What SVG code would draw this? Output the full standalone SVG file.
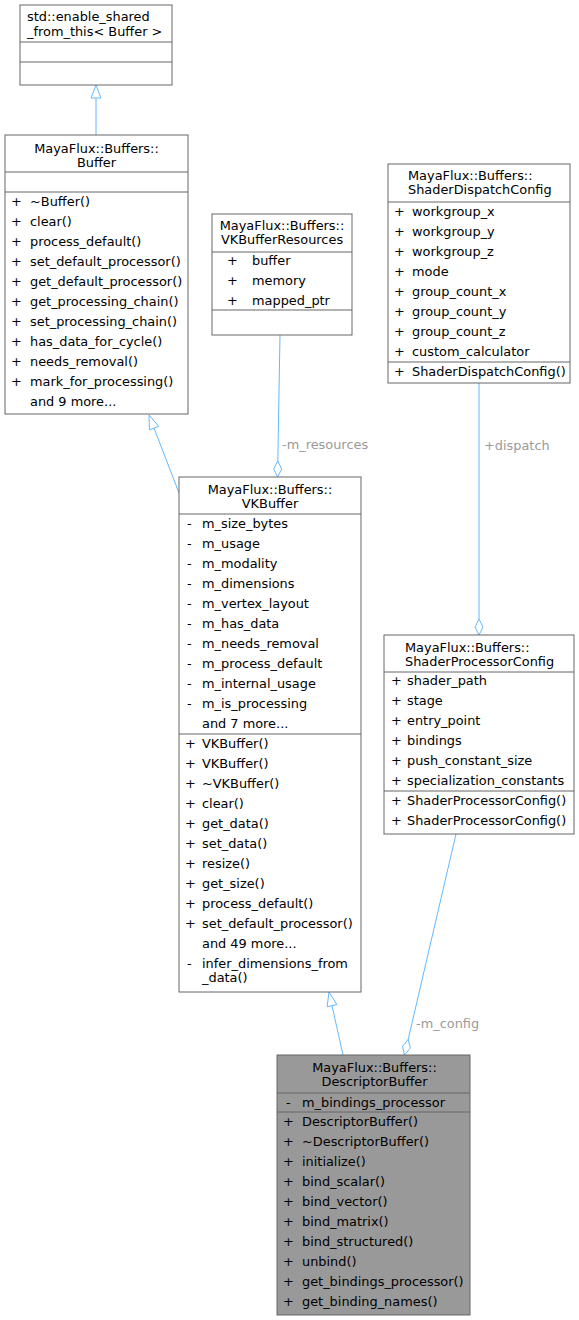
<svg xmlns="http://www.w3.org/2000/svg" width="579" height="1320" viewBox="0 0 579 1320">
<style>
.box{fill:#ffffff;stroke:#666666;stroke-width:1}
.hl{fill:#999999;stroke:#666666;stroke-width:1}
.div{stroke:#666666;stroke-width:1;fill:none}
text{font-family:"DejaVu Sans","Liberation Sans",sans-serif;font-size:12.9px;fill:#000000}
.c{text-anchor:middle}
.lbl{fill:#9a9a9a}
.edge{stroke:#63b8ff;stroke-width:1;fill:none}
.head{stroke:#63b8ff;stroke-width:1;fill:#ffffff}
</style>
<rect width="579" height="1320" fill="#ffffff"/>
<g id="connectors">
  <line class="edge" x1="96" y1="135" x2="96" y2="98"/>
  <polygon class="head" points="96,85 101,98 91,98"/>
  <line class="edge" x1="179" y1="493" x2="154" y2="428"/>
  <polygon class="head" points="149,415 158.7,426.3 149.4,429.9"/>
  <line class="edge" x1="280" y1="335" x2="277.8" y2="461"/>
  <polygon class="head" points="277.6,477 273.7,469 277.8,461 281.7,469"/>
  <text class="lbl" x="282" y="449">-m_resources</text>
  <line class="edge" x1="479" y1="383" x2="479" y2="619"/>
  <polygon class="head" points="479,635 475,627 479,619 483,627"/>
  <text class="lbl" x="484" y="450">+dispatch</text>
  <line class="edge" x1="343" y1="1055" x2="332" y2="1005.7"/>
  <polygon class="head" points="329,992 336.9,1004.6 327.1,1006.8"/>
  <line class="edge" x1="456" y1="834" x2="408.2" y2="1039.4"/>
  <polygon class="head" points="404.5,1055 402.5,1046.3 408.2,1039.4 410.3,1048.1"/>
  <text class="lbl" x="416" y="1028">-m_config</text>
</g>
<g id="node_enable_shared">
  <rect class="box" x="20" y="5" width="152" height="80"/>
  <line class="div" x1="20" y1="42" x2="172" y2="42"/>
  <line class="div" x1="20" y1="62" x2="172" y2="62"/>
  <text x="27" y="21">std::enable_shared</text>
  <text x="27" y="36">_from_this&lt; Buffer &gt;</text>
</g>
<g id="node_Buffer">
  <rect class="box" x="5" y="135" width="183" height="279"/>
  <line class="div" x1="5" y1="172" x2="188" y2="172"/>
  <line class="div" x1="5" y1="192" x2="188" y2="192"/>
  <text class="c" x="96.5" y="153">MayaFlux::Buffers::</text>
  <text class="c" x="96.5" y="167">Buffer</text>
  <text x="11" y="206">+</text><text x="30" y="206">~Buffer()</text>
  <text x="11" y="226">+</text><text x="30" y="226">clear()</text>
  <text x="11" y="246">+</text><text x="30" y="246">process_default()</text>
  <text x="11" y="266">+</text><text x="30" y="266">set_default_processor()</text>
  <text x="11" y="286">+</text><text x="30" y="286">get_default_processor()</text>
  <text x="11" y="306">+</text><text x="30" y="306">get_processing_chain()</text>
  <text x="11" y="326">+</text><text x="30" y="326">set_processing_chain()</text>
  <text x="11" y="346">+</text><text x="30" y="346">has_data_for_cycle()</text>
  <text x="11" y="366">+</text><text x="30" y="366">needs_removal()</text>
  <text x="11" y="386">+</text><text x="30" y="386">mark_for_processing()</text>
  <text x="30" y="406">and 9 more...</text>
</g>
<g id="node_VKBufferResources">
  <rect class="box" x="212" y="214" width="140" height="121"/>
  <line class="div" x1="212" y1="252" x2="352" y2="252"/>
  <line class="div" x1="212" y1="310" x2="352" y2="310"/>
  <text class="c" x="282" y="230">MayaFlux::Buffers::</text>
  <text class="c" x="282" y="244">VKBufferResources</text>
  <text x="227" y="265">+</text><text x="252" y="265">buffer</text>
  <text x="227" y="285">+</text><text x="252" y="285">memory</text>
  <text x="227" y="305">+</text><text x="252" y="305">mapped_ptr</text>
</g>
<g id="node_ShaderDispatchConfig">
  <rect class="box" x="388" y="164" width="182" height="219"/>
  <line class="div" x1="388" y1="202" x2="570" y2="202"/>
  <line class="div" x1="388" y1="362" x2="570" y2="362"/>
  <text x="408" y="180">MayaFlux::Buffers::</text>
  <text x="408" y="194">ShaderDispatchConfig</text>
  <text x="394" y="216">+</text><text x="412" y="216">workgroup_x</text>
  <text x="394" y="236">+</text><text x="412" y="236">workgroup_y</text>
  <text x="394" y="256">+</text><text x="412" y="256">workgroup_z</text>
  <text x="394" y="276">+</text><text x="412" y="276">mode</text>
  <text x="394" y="296">+</text><text x="412" y="296">group_count_x</text>
  <text x="394" y="316">+</text><text x="412" y="316">group_count_y</text>
  <text x="394" y="336">+</text><text x="412" y="336">group_count_z</text>
  <text x="394" y="356">+</text><text x="412" y="356">custom_calculator</text>
  <text x="394" y="376">+</text><text x="412" y="376">ShaderDispatchConfig()</text>
</g>
<g id="node_VKBuffer">
  <rect class="box" x="179" y="477" width="182" height="515"/>
  <line class="div" x1="179" y1="514" x2="361" y2="514"/>
  <line class="div" x1="179" y1="734" x2="361" y2="734"/>
  <text class="c" x="270" y="494">MayaFlux::Buffers::</text>
  <text class="c" x="270" y="508">VKBuffer</text>
  <text x="187" y="528">-</text><text x="202" y="528">m_size_bytes</text>
  <text x="187" y="548">-</text><text x="202" y="548">m_usage</text>
  <text x="187" y="568">-</text><text x="202" y="568">m_modality</text>
  <text x="187" y="588">-</text><text x="202" y="588">m_dimensions</text>
  <text x="187" y="608">-</text><text x="202" y="608">m_vertex_layout</text>
  <text x="187" y="628">-</text><text x="202" y="628">m_has_data</text>
  <text x="187" y="648">-</text><text x="202" y="648">m_needs_removal</text>
  <text x="187" y="668">-</text><text x="202" y="668">m_process_default</text>
  <text x="187" y="688">-</text><text x="202" y="688">m_internal_usage</text>
  <text x="187" y="708">-</text><text x="202" y="708">m_is_processing</text>
  <text x="202" y="728">and 7 more...</text>
  <text x="185" y="748">+</text><text x="202" y="748">VKBuffer()</text>
  <text x="185" y="768">+</text><text x="202" y="768">VKBuffer()</text>
  <text x="185" y="788">+</text><text x="202" y="788">~VKBuffer()</text>
  <text x="185" y="808">+</text><text x="202" y="808">clear()</text>
  <text x="185" y="828">+</text><text x="202" y="828">get_data()</text>
  <text x="185" y="848">+</text><text x="202" y="848">set_data()</text>
  <text x="185" y="868">+</text><text x="202" y="868">resize()</text>
  <text x="185" y="888">+</text><text x="202" y="888">get_size()</text>
  <text x="185" y="908">+</text><text x="202" y="908">process_default()</text>
  <text x="185" y="928">+</text><text x="202" y="928">set_default_processor()</text>
  <text x="202" y="948">and 49 more...</text>
  <text x="187" y="968">-</text><text x="202" y="968">infer_dimensions_from</text>
  <text x="202" y="982">_data()</text>
</g>
<g id="node_ShaderProcessorConfig">
  <rect class="box" x="384" y="635" width="190" height="199"/>
  <line class="div" x1="384" y1="672" x2="574" y2="672"/>
  <line class="div" x1="384" y1="791" x2="574" y2="791"/>
  <text x="405" y="652">MayaFlux::Buffers::</text>
  <text x="405" y="666">ShaderProcessorConfig</text>
  <text x="391" y="685">+</text><text x="407" y="685">shader_path</text>
  <text x="391" y="705">+</text><text x="407" y="705">stage</text>
  <text x="391" y="725">+</text><text x="407" y="725">entry_point</text>
  <text x="391" y="745">+</text><text x="407" y="745">bindings</text>
  <text x="391" y="765">+</text><text x="407" y="765">push_constant_size</text>
  <text x="391" y="785">+</text><text x="407" y="785">specialization_constants</text>
  <text x="391" y="805">+</text><text x="407" y="805">ShaderProcessorConfig()</text>
  <text x="391" y="825">+</text><text x="407" y="825">ShaderProcessorConfig()</text>
</g>
<g id="node_DescriptorBuffer">
  <rect class="hl" x="277" y="1055" width="193" height="260"/>
  <line class="div" x1="277" y1="1093" x2="470" y2="1093"/>
  <line class="div" x1="277" y1="1112" x2="470" y2="1112"/>
  <text class="c" x="374.5" y="1072">MayaFlux::Buffers::</text>
  <text class="c" x="374.5" y="1086">DescriptorBuffer</text>
  <text x="286" y="1107">-</text><text x="302" y="1107">m_bindings_processor</text>
  <text x="283" y="1126">+</text><text x="302" y="1126">DescriptorBuffer()</text>
  <text x="283" y="1146">+</text><text x="302" y="1146">~DescriptorBuffer()</text>
  <text x="283" y="1166">+</text><text x="302" y="1166">initialize()</text>
  <text x="283" y="1186">+</text><text x="302" y="1186">bind_scalar()</text>
  <text x="283" y="1206">+</text><text x="302" y="1206">bind_vector()</text>
  <text x="283" y="1226">+</text><text x="302" y="1226">bind_matrix()</text>
  <text x="283" y="1246">+</text><text x="302" y="1246">bind_structured()</text>
  <text x="283" y="1266">+</text><text x="302" y="1266">unbind()</text>
  <text x="283" y="1286">+</text><text x="302" y="1286">get_bindings_processor()</text>
  <text x="283" y="1306">+</text><text x="302" y="1306">get_binding_names()</text>
</g>
</svg>
